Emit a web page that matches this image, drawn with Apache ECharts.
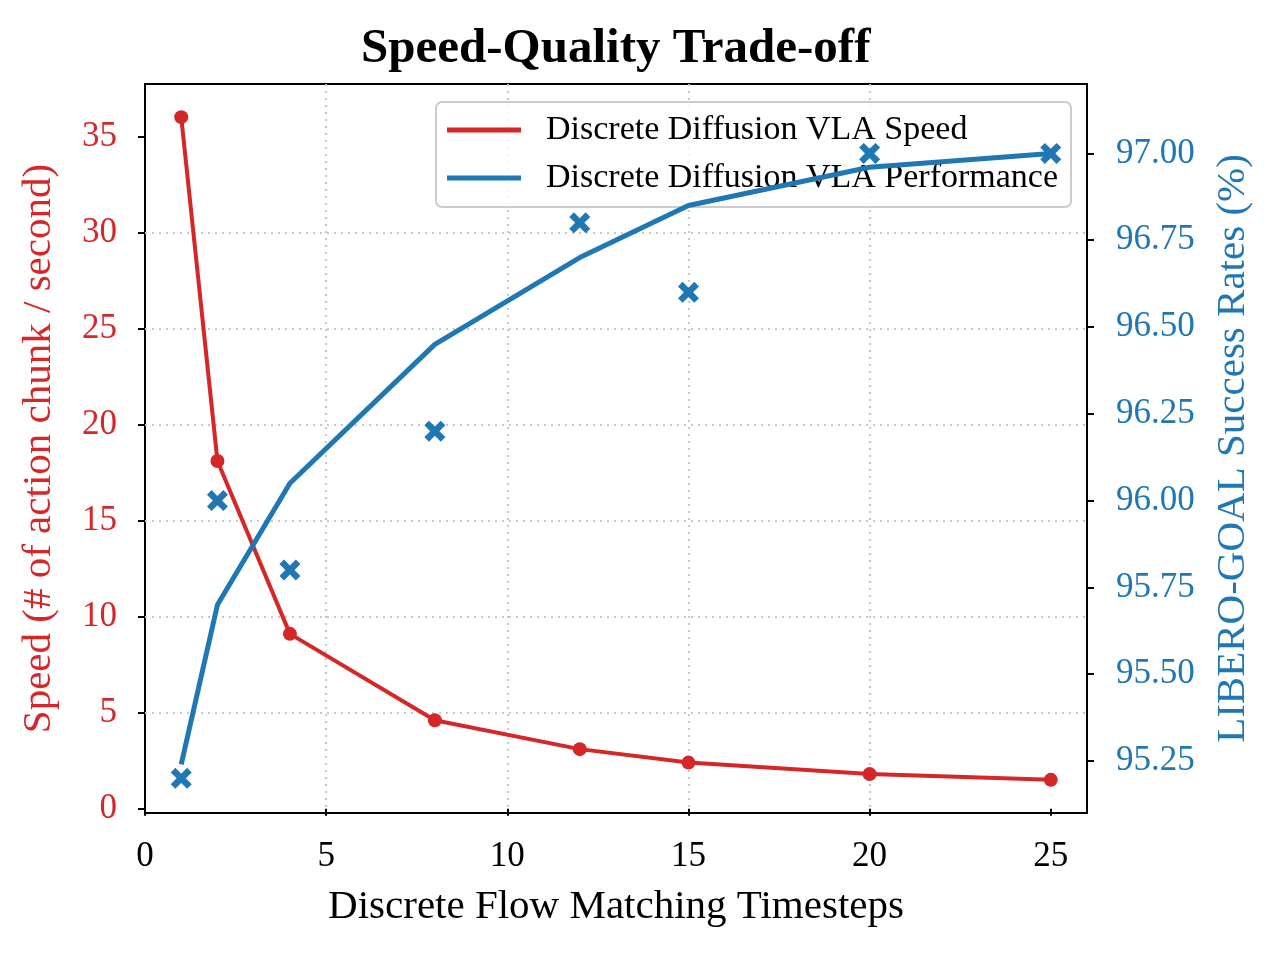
<!DOCTYPE html>
<html>
<head>
<meta charset="utf-8">
<title>Speed-Quality Trade-off</title>
<script src="https://cdn.jsdelivr.net/npm/echarts@6.0.0/dist/echarts.min.js"></script>
<style>
  html, body { margin: 0; padding: 0; background: #fff; }
  #main { width: 1280px; height: 955px; }
</style>
</head>
<body>
<div id="main"></div>
<script>
// data
const steps = [1, 2, 4, 8, 12, 15, 20, 25]
const speed = [36, 18.1, 9.1, 4.6, 3.1, 2.4, 1.8, 1.5]
const perfLine = [95.24, 95.70, 96.05, 96.45, 96.70, 96.85, 96.96, 97.00]
const perfPoints = [95.2, 96.0, 95.8, 96.2, 96.8, 96.6, 97.0, 97.0]

const xTicks = [0, 5, 10, 15, 20, 25]
const speedTicks = [0, 5, 10, 15, 20, 25, 30, 35]
const perfTicks = [95.25, 95.5, 95.75, 96.0, 96.25, 96.5, 96.75, 97.0]

const RED = '#d62728'
const BLUE = '#1f77b4'
const FONT = "'Liberation Serif', 'DejaVu Serif', serif"

const pairs = (xs, ys) => xs.map((x, i) => [x, ys[i]])

// thick "x" marker
const crossPath = 'path://M0,2.2 L2.2,0 L5,2.8 L7.8,0 L10,2.2 L7.2,5 L10,7.8 L7.8,10 L5,7.2 L2.2,10 L0,7.8 L2.8,5 Z'

const chart = echarts.init(document.getElementById('main'))

chart.setOption({
  animation: false,
  backgroundColor: '#fff',
  textStyle: { fontFamily: FONT },
  title: {
    text: 'Speed-Quality Trade-off',
    left: 361,
    top: 25,
    padding: 0,
    textStyle: { fontFamily: FONT, fontSize: 49, fontWeight: 'bold', color: '#000' },
  },
  legend: {
    orient: 'vertical',
    left: 436,
    top: 102,
    z: 1,
    padding: [11, 13, 12, 11],
    itemGap: 14,
    itemWidth: 74,
    itemHeight: 5,
    icon: 'rect',
    backgroundColor: 'rgba(255,255,255,0.8)',
    borderColor: '#cccccc',
    borderWidth: 2,
    borderRadius: 6,
    textStyle: { fontFamily: FONT, fontSize: 34, color: '#000', padding: [0, 0, 0, 20] },
    data: ['Discrete Diffusion VLA Speed', 'Discrete Diffusion VLA Performance'],
  },
  grid: {
    left: 145,
    top: 84,
    width: 942,
    height: 729,
    show: true,
    borderColor: '#000',
    borderWidth: 2,
    backgroundColor: 'transparent',
  },
  xAxis: {
    type: 'value',
    min: 0,
    max: 26,
    splitNumber: 5,
    name: 'Discrete Flow Matching Timesteps',
    nameLocation: 'middle',
    nameGap: 74,
    nameTextStyle: { fontFamily: FONT, fontSize: 41, color: '#000' },
    axisLine: { show: false },
    axisTick: { show: true, inside: false, length: 7, lineStyle: { color: '#000', width: 2 }, customValues: xTicks },
    axisLabel: { fontFamily: FONT, fontSize: 35, color: '#000', margin: 26, customValues: xTicks },
    splitLine: {
      show: true,
      showMinLine: false,
      showMaxLine: false,
      lineStyle: { color: '#c8c8c8', width: 2, type: [2, 5] },
    },
  },
  yAxis: [
    {
      type: 'value',
      position: 'left',
      min: -0.225,
      max: 37.725,
      splitNumber: 8,
      name: 'Speed (# of action chunk / second)',
      nameLocation: 'middle',
      nameRotate: 90,
      nameGap: 85,
      nameTextStyle: { fontFamily: FONT, fontSize: 41, color: RED },
      axisLine: { show: false },
      axisTick: { show: true, inside: false, length: 7, lineStyle: { color: '#000', width: 2 }, customValues: speedTicks },
      axisLabel: { fontFamily: FONT, fontSize: 35, color: RED, margin: 28, customValues: speedTicks },
      splitLine: {
        show: true,
        showMinLine: false,
        showMaxLine: false,
        lineStyle: { color: '#c8c8c8', width: 2, type: [2, 5] },
      },
    },
    {
      type: 'value',
      position: 'right',
      min: 95.1,
      max: 97.2,
      name: 'LIBERO-GOAL Success Rates (%)',
      nameLocation: 'middle',
      nameRotate: 90,
      nameGap: 126,
      nameTextStyle: { fontFamily: FONT, fontSize: 41, color: BLUE },
      axisLine: { show: false },
      axisTick: { show: true, inside: false, length: 7, lineStyle: { color: '#000', width: 2 }, customValues: perfTicks },
      axisLabel: {
        fontFamily: FONT, fontSize: 35, color: BLUE, margin: 29, customValues: perfTicks,
        formatter: (v) => v.toFixed(2),
      },
      splitLine: { show: false },
    },
  ],
  series: [
    {
      name: 'Discrete Diffusion VLA Speed',
      type: 'line',
      yAxisIndex: 0,
      z: 2,
      data: pairs(steps, speed),
      symbol: 'circle',
      symbolSize: 14,
      showSymbol: true,
      itemStyle: { color: RED },
      lineStyle: { color: RED, width: 4 },
    },
    {
      name: 'Discrete Diffusion VLA Performance',
      type: 'line',
      yAxisIndex: 1,
      z: 3,
      data: pairs(steps, perfLine),
      showSymbol: false,
      symbol: 'none',
      itemStyle: { color: BLUE },
      lineStyle: { color: BLUE, width: 5 },
    },
    {
      name: 'measured',
      type: 'scatter',
      yAxisIndex: 1,
      z: 4,
      data: pairs(steps, perfPoints),
      symbol: crossPath,
      symbolSize: 21,
      itemStyle: { color: BLUE, opacity: 1 },
    },
  ],
})
</script>
</body>
</html>
